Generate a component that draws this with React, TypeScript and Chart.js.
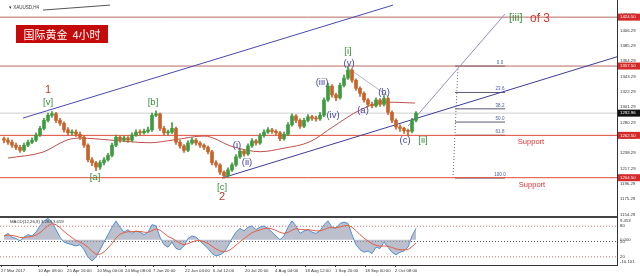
import React, { useEffect, useRef } from "react";
import { Chart, registerables } from "chart.js";
Chart.register(...registerables);

// ---------------- data ----------------
const opens = [1258,1256,1253,1249,1246,1242,1249,1253,1256,1263,
 1272,1283,1290,1292,1283,1279,1270,1266,1267,1264,
 1260,1249,1229,1225,1219,1225,1229,1235,1249,1260,
 1256,1259,1256,1263,1267,1266,1268,1270,1290,1292,
 1272,1266,1267,1272,1253,1248,1242,1252,1256,1252,
 1249,1246,1240,1225,1222,1212,1207,1215,1222,1233,
 1241,1237,1248,1255,1252,1262,1267,1270,1268,1266,
 1258,1264,1277,1289,1283,1275,1283,1288,1286,1285,
 1290,1311,1330,1318,1314,1331,1341,1352,1338,1327,
 1320,1311,1305,1303,1311,1305,1313,1294,1283,1274,
 1272,1269,1268,1283];
const highs = [1260,1259,1256,1252,1249,1252,1256,1259,1266,1275,
 1286,1293,1295,1294,1286,1281,1273,1270,1270,1267,
 1262,1251,1232,1227,1228,1232,1238,1252,1263,1262,
 1262,1261,1266,1270,1270,1271,1274,1293,1296,1293,
 1275,1270,1280,1274,1256,1250,1255,1259,1258,1254,
 1251,1248,1242,1228,1224,1214,1218,1225,1236,1244,
 1243,1251,1258,1257,1265,1270,1273,1272,1270,1268,
 1267,1280,1292,1291,1285,1286,1291,1290,1289,1294,
 1314,1334,1332,1320,1334,1345,1357,1354,1340,1329,
 1322,1313,1308,1314,1313,1317,1315,1296,1285,1277,
 1274,1271,1286,1295];
const lows = [1252,1250,1246,1243,1239,1240,1247,1251,1254,1261,
 1270,1281,1287,1280,1276,1267,1263,1263,1261,1257,
 1246,1226,1221,1214,1216,1222,1227,1233,1247,1253,
 1254,1253,1254,1261,1263,1264,1266,1268,1288,1269,
 1263,1263,1265,1250,1245,1239,1240,1250,1249,1246,
 1243,1237,1222,1219,1209,1204,1205,1213,1220,1231,
 1234,1235,1246,1249,1250,1260,1265,1265,1263,1255,
 1256,1262,1275,1280,1272,1273,1281,1283,1282,1283,
 1288,1309,1315,1310,1312,1329,1339,1335,1324,1316,
 1308,1302,1300,1301,1302,1303,1291,1280,1271,1268,
 1265,1262,1266,1281];
const closes = [1256,1253,1249,1246,1242,1249,1253,1256,1263,1272,
 1283,1290,1292,1283,1279,1270,1266,1267,1264,1260,
 1249,1229,1225,1219,1225,1229,1235,1249,1260,1256,
 1259,1256,1263,1267,1266,1268,1270,1290,1292,1272,
 1266,1267,1272,1253,1248,1242,1252,1256,1252,1249,
 1246,1240,1225,1222,1212,1207,1215,1222,1233,1241,
 1237,1248,1255,1252,1262,1267,1270,1268,1266,1258,
 1264,1277,1289,1283,1275,1283,1288,1286,1285,1290,
 1311,1330,1318,1314,1331,1341,1352,1338,1327,1320,
 1311,1305,1303,1311,1305,1313,1294,1283,1274,1272,
 1269,1268,1283,1292.96];

const maIndex = [1, 9.75, 15.75, 19, 26.5, 36.5, 42.25, 50, 57.25, 64, 69.75, 76.5, 82.25, 89, 95.25, 102.75];
const maValues = [1231.4, 1239.6, 1256.1, 1258.8, 1256.1, 1252.4, 1256.1, 1261.6, 1246.9, 1240.1, 1244.7, 1253.8, 1274.3, 1297.2, 1308.1, 1306.8];

const macdMain = [1.5,2.5,1.0,0.5,-0.5,1.0,2.0,1.5,3.0,5.5,
 7.5,8.5,7.0,4.0,1.0,-1.0,-1.5,-2.0,-2.5,-2.0,
 -4.0,-7.0,-8.5,-7.0,-4.0,-1.0,2.0,5.0,7.5,5.0,
 3.0,4.0,2.5,3.5,3.0,2.0,3.0,6.0,5.5,1.0,
 -2.0,-3.0,-1.0,-3.5,-4.0,-2.5,0.5,1.5,1.0,-0.5,
 -2.0,-3.5,-5.5,-6.5,-6.0,-5.0,-2.5,0.5,3.0,4.5,
 3.5,5.0,5.5,4.0,5.0,5.5,4.5,3.0,1.5,0.0,
 1.5,5.0,7.5,5.5,2.5,3.5,4.0,3.0,2.5,3.5,
 6.0,7.5,5.0,4.5,6.5,7.0,6.5,2.0,-2.0,-4.0,
 -5.0,-4.5,-5.5,-3.0,-3.5,-1.0,-3.0,-5.0,-6.0,-5.0,
 -4.5,-3.0,1.5,4.5];
const macdSignal = [1.5,1.8,1.7,1.4,0.9,0.8,1.1,1.3,1.8,2.8,
 4.2,5.6,6.4,6.0,4.8,3.3,2.0,0.8,-0.3,-1.0,
 -1.8,-3.0,-4.6,-5.8,-5.8,-4.9,-3.3,-1.5,0.7,2.2,
 2.8,3.2,3.2,3.3,3.3,3.0,2.9,3.6,4.3,3.8,
 2.6,1.3,0.6,-0.4,-1.4,-2.0,-1.6,-0.9,-0.4,-0.4,
 -0.8,-1.5,-2.6,-3.7,-4.5,-4.8,-4.5,-3.5,-2.2,-0.8,
 0.4,1.6,2.8,3.4,3.9,4.4,4.6,4.3,3.7,2.9,
 2.5,2.9,3.8,4.4,4.1,4.0,4.0,3.8,3.5,3.5,
 4.0,4.7,4.8,4.8,5.1,5.5,5.7,5.0,3.6,2.0,
 0.6,-0.5,-1.6,-2.2,-2.6,-2.5,-2.6,-3.1,-3.7,-4.0,
 -4.1,-3.9,-2.8,-1.3];

const priceTicks = [1154.29, 1175.29, 1196.29, 1217.29, 1238.29, 1259.29, 1280.29, 1301.29, 1322.29, 1343.29, 1364.29, 1385.29, 1406.29, 1427.29];
const dateTickIndex = [-0.75, 8.5, 15.75, 23.25, 30.25, 37.25, 45.25, 52.25, 60.25, 67.75, 75.25, 82.75, 90.25, 97.75];
const dateTickLabels = ["27 Mar 2017", "10 Apr 08:00", "25 Apr 16:00", "10 May 00:00", "24 May 08:00", "7 Jun 20:00", "22 Jun 04:00", "6 Jul 12:00", "20 Jul 20:00", "4 Aug 04:00", "18 Aug 12:00", "1 Sep 20:00", "18 Sep 00:00", "2 Oct 08:00"];

const keyLevels = [1424.5, 1357.5, 1262.5, 1204.5];
const keyLevelLabels = ["1424.50", "1357.50", "1262.50", "1204.50"];
const lastPrice = 1292.96;
const fibHigh = 1357.5;
const fibLow = 1204;
const fibLevels = [0, 23.6, 38.2, 50, 61.8, 100];
const fibLabels = ["0.0", "23.6", "38.2", "50.0", "61.8", "100.0"];
const stochLevels = [80, 50, 20];
const macdAxisLabels = ["9.453", "0.000", "-10.101"];
const macdAxisValues = [9.453, 0, -10.101];

// ---------------- config / styling ----------------
const X_MIN = -1;
const X_MAX = 153.25;
const UP = "#3f9b3f";
const DOWN = "#c8642a";
const FONT = '"Liberation Sans", Arial, sans-serif';

const trendLines = [
  { from: [4.75, 1286.2], to: [97.25, 1441], color: "#4848b2", width: 1 },
  { from: [54.5, 1204], to: [153.25, 1370.2], color: "#3c3c9a", width: 1 },
  { from: [101, 1275.3], to: [125.25, 1428.7], color: "#9a8ac4", width: 1 },
  { from: [86, 1354.7], to: [96, 1316.4], color: "#b4b4bc", width: 1 },
  { from: [9.75, 1434.2], to: [26.5, 1441], color: "#555555", width: 1 },
];

const GREEN = "#3b8f3b";
const BLUE = "#4545a5";
const RED = "#c0392b";
const waveLabels = [
  { t: "1", i: 11, p: 1324.6, c: RED, s: 11 },
  { t: "[v]", i: 11, p: 1308.1, c: GREEN, s: 9.5 },
  { t: "[a]", i: 22.75, p: 1205.4, c: GREEN, s: 9.5 },
  { t: "[b]", i: 37.25, p: 1308.1, c: GREEN, s: 9.5 },
  { t: "[c]", i: 54.5, p: 1191.7, c: GREEN, s: 9.5 },
  { t: "2", i: 54.5, p: 1178, c: RED, s: 11 },
  { t: "(i)", i: 58.25, p: 1249.2, c: BLUE, s: 9.5 },
  { t: "(ii)", i: 60.75, p: 1225.9, c: BLUE, s: 9.5 },
  { t: "(iii)", i: 79.5, p: 1335.5, c: BLUE, s: 9.5 },
  { t: "(iv)", i: 82.25, p: 1290.3, c: BLUE, s: 9.5 },
  { t: "[i]", i: 86, p: 1378, c: GREEN, s: 9.5 },
  { t: "(v)", i: 86.25, p: 1361.6, c: BLUE, s: 9.5 },
  { t: "(a)", i: 89.75, p: 1297.2, c: BLUE, s: 9.5 },
  { t: "(b)", i: 95, p: 1321.8, c: BLUE, s: 9.5 },
  { t: "(c)", i: 100.25, p: 1256.1, c: BLUE, s: 9.5 },
  { t: "[ii]", i: 104.75, p: 1256.1, c: GREEN, s: 9.5 },
];
const supportLabels = [
  { i: 131.75, p: 1253.3 },
  { i: 132, p: 1194.4 },
];

function seg(from: number[], to: number[], color: string, width: number, dash: number[] = [], order = 5, axis = "y") {
  return {
    type: "line",
    data: [{ x: from[0], y: from[1] }, { x: to[0], y: to[1] }],
    borderColor: color,
    borderWidth: width,
    borderDash: dash,
    pointRadius: 0,
    fill: false,
    tension: 0,
    order,
    yAxisID: axis,
  };
}

const topTextPlugin = {
  id: "topText",
  afterDatasetsDraw(chart: any) {
    const { ctx, scales, chartArea } = chart;
    const x = scales.x, y = scales.y;
    ctx.save();
    // fib labels
    ctx.font = `4.5px ${FONT}`;
    ctx.fillStyle = "#4a55a8";
    ctx.textAlign = "center";
    ctx.textBaseline = "bottom";
    fibLevels.forEach((lv, k) => {
      const p = fibHigh - (lv / 100) * (fibHigh - fibLow);
      ctx.fillText(fibLabels[k], x.getPixelForValue(124), y.getPixelForValue(p) - 1);
    });
    // wave labels
    ctx.textBaseline = "middle";
    waveLabels.forEach((w) => {
      ctx.font = `${w.s}px ${FONT}`;
      ctx.fillStyle = w.c;
      ctx.fillText(w.t, x.getPixelForValue(w.i), y.getPixelForValue(w.p));
    });
    // support
    ctx.font = `7.5px ${FONT}`;
    ctx.fillStyle = "#d83232";
    supportLabels.forEach((s) => ctx.fillText("Support", x.getPixelForValue(s.i), y.getPixelForValue(s.p)));
    // [iii] of 3
    ctx.textAlign = "left";
    ctx.font = `11px ${FONT}`;
    ctx.fillStyle = GREEN;
    ctx.fillText("[iii]", x.getPixelForValue(126.25), y.getPixelForValue(1423));
    ctx.font = `12px ${FONT}`;
    ctx.fillStyle = "#d04030";
    ctx.fillText("of 3", x.getPixelForValue(131.5), y.getPixelForValue(1423));
    // caption
    ctx.font = `4.5px ${FONT}`;
    ctx.fillStyle = "#333";
    ctx.fillText("\u25BE XAUUSD,H4", chartArea.left + 9, chartArea.top + 8);
    // title box
    ctx.fillStyle = "#c40a0a";
    ctx.fillRect(chartArea.left + 16, chartArea.top + 25, 92, 18);
    ctx.fillStyle = "#ffffff";
    ctx.textAlign = "center";
    ctx.font = `11px "Noto Sans CJK SC", sans-serif`;
    ctx.fillText("国际黄金  4小时", chartArea.left + 62, chartArea.top + 34.5);
    ctx.restore();
  },
  afterDraw(chart: any) {
    const { ctx, scales, chartArea } = chart;
    const y = scales.y;
    ctx.save();
    ctx.font = `4.3px ${FONT}`;
    ctx.textBaseline = "middle";
    ctx.textAlign = "left";
    const boxes = keyLevels.map((v, k) => ({ v, t: keyLevelLabels[k], bg: "#d42a2a" }));
    boxes.push({ v: lastPrice, t: lastPrice.toFixed(2), bg: "#111111" });
    boxes.forEach((b) => {
      const py = y.getPixelForValue(b.v);
      ctx.fillStyle = b.bg;
      ctx.fillRect(chartArea.right + 1, py - 3.5, 22, 7);
      ctx.fillStyle = "#fff";
      ctx.fillText(b.t, chartArea.right + 3, py);
    });
    ctx.restore();
  },
};

const botTextPlugin = {
  id: "botText",
  afterDraw(chart: any) {
    const { ctx, scales, chartArea } = chart;
    const y = scales.y, ys = scales.ys;
    ctx.save();
    ctx.strokeStyle = "#444";
    ctx.lineWidth = 2;
    ctx.beginPath();
    ctx.moveTo(0, chartArea.top + 1);
    ctx.lineTo(chartArea.right, chartArea.top + 1);
    ctx.stroke();
    ctx.font = `4.3px ${FONT}`;
    ctx.fillStyle = "#333";
    ctx.textAlign = "left";
    ctx.textBaseline = "middle";
    ctx.fillText("MACD(12,26,9) 3.284 3.659", chartArea.left + 10, chartArea.top + 6);
    const tx = chartArea.right + 3;
    ctx.fillText(macdAxisLabels[0], tx, chartArea.top + 5);
    ctx.fillText(macdAxisLabels[1], tx, y.getPixelForValue(macdAxisValues[1]));
    ctx.fillText(macdAxisLabels[2], tx, chartArea.bottom - 3);
    stochLevels.forEach((v) => ctx.fillText(String(v), tx, ys.getPixelForValue(v)));
    ctx.restore();
  },
};

export default function App() {
  const topRef = useRef<HTMLCanvasElement>(null);
  const botRef = useRef<HTMLCanvasElement>(null);

  useEffect(() => {
    document.body.style.margin = "0";
    const idx = closes.map((_, i) => i);
    const colors = idx.map((i) => (closes[i] >= opens[i] ? UP : DOWN));

    const datasets: any[] = [
      {
        type: "bar",
        data: idx.map((i) => ({ x: i, y: [opens[i], closes[i]] })),
        backgroundColor: colors,
        borderWidth: 0,
        barThickness: 3,
        minBarLength: 1,
        grouped: false,
        order: 2,
      },
      {
        type: "bar",
        data: idx.map((i) => ({ x: i, y: [lows[i], highs[i]] })),
        backgroundColor: colors,
        borderWidth: 0,
        barThickness: 1,
        grouped: false,
        order: 3,
      },
      {
        type: "line",
        data: maIndex.map((v, k) => ({ x: v, y: maValues[k] })),
        borderColor: "#c0504a",
        borderWidth: 1,
        pointRadius: 0,
        fill: false,
        cubicInterpolationMode: "monotone",
        order: 4,
      },
    ];
    trendLines.forEach((t) => datasets.push(seg(t.from, t.to, t.color, t.width, [], 5)));
    // horizontal key levels
    keyLevels.forEach((v, k) =>
      datasets.push(seg([X_MIN, v], [X_MAX, v], k < 2 ? "#b86a60" : "#e04a3a", 1, [], 6))
    );
    datasets.push(seg([X_MIN, lastPrice], [X_MAX, lastPrice], "#cfcfcf", 1, [], 8));
    // fibonacci
    datasets.push(seg([112.25, fibLow], [113.5, fibHigh], "#666", 1, [1, 2], 7));
    fibLevels.forEach((lv) => {
      const p = fibHigh - (lv / 100) * (fibHigh - fibLow);
      datasets.push(seg([112.75, p], [125.25, p], "#5a5a78", 1, [], 7));
    });

    const top = new Chart(topRef.current!, {
      type: "bar",
      data: { datasets },
      plugins: [topTextPlugin],
      options: {
        responsive: false,
        animation: false,
        layout: { padding: 0 },
        plugins: { legend: { display: false }, tooltip: { enabled: false } },
        scales: {
          x: { type: "linear", min: X_MIN, max: X_MAX, offset: false, display: false },
          y: {
            position: "right",
            min: 1152,
            max: 1448,
            grid: { display: false, drawTicks: false },
            border: { display: true, color: "#333", width: 1 },
            afterBuildTicks: (s: any) => {
              s.ticks = priceTicks.map((v) => ({ value: v }));
            },
            afterFit: (s: any) => {
              s.width = 23;
              s.paddingTop = 0;
              s.paddingBottom = 0;
            },
            ticks: {
              padding: 3,
              font: { size: 4.3, family: FONT },
              color: "#333",
              callback: (v: any) => Number(v).toFixed(2),
            },
          },
        },
      } as any,
    } as any);

    const botSets: any[] = [
      {
        type: "line",
        data: idx.map((i) => ({ x: i, y: macdMain[i] })),
        borderColor: "#4f8fd6",
        borderWidth: 1,
        backgroundColor: "rgba(150,158,176,0.65)",
        fill: "origin",
        pointRadius: 0,
        tension: 0,
        order: 2,
      },
      {
        type: "line",
        data: idx.map((i) => ({ x: i, y: macdSignal[i] })),
        borderColor: "#e0604a",
        borderWidth: 1,
        fill: false,
        pointRadius: 0,
        tension: 0,
        order: 1,
      },
    ];
    stochLevels.forEach((v) =>
      botSets.push(seg([X_MIN, v], [X_MAX, v], v === 50 ? "#555" : "#d06a6a", 1, [1, 2], 3, "ys"))
    );

    const bot = new Chart(botRef.current!, {
      type: "line",
      data: { datasets: botSets },
      plugins: [botTextPlugin],
      options: {
        responsive: false,
        animation: false,
        layout: { padding: 0 },
        plugins: { legend: { display: false }, tooltip: { enabled: false } },
        scales: {
          x: {
            type: "linear",
            min: X_MIN,
            max: X_MAX,
            offset: false,
            position: "bottom",
            grid: { display: true, drawOnChartArea: false, drawTicks: true, tickLength: 2, color: "#333" },
            border: { display: true, color: "#333", width: 1 },
            afterBuildTicks: (s: any) => {
              s.ticks = dateTickIndex.map((v) => ({ value: v }));
            },
            afterFit: (s: any) => {
              s.height = 11;
              s.paddingLeft = 0;
              s.paddingRight = 0;
            },
            ticks: {
              autoSkip: false,
              maxRotation: 0,
              minRotation: 0,
              align: "start",
              padding: 1,
              font: { size: 4.3, family: FONT },
              color: "#333",
              callback: (_v: any, i: number) => dateTickLabels[i],
            },
          },
          y: {
            position: "right",
            min: -10.101,
            max: 9.453,
            grid: { display: false, drawTicks: false },
            border: { display: true, color: "#333", width: 1 },
            ticks: { display: false },
            afterFit: (s: any) => {
              s.width = 23;
              s.paddingTop = 0;
              s.paddingBottom = 0;
            },
          },
          ys: { display: false, min: 4, max: 100 },
        },
      } as any,
    } as any);

    return () => {
      top.destroy();
      bot.destroy();
    };
  }, []);

  return (
    <div style={{ position: "fixed", left: 0, top: 0, width: 640, height: 276, background: "#fff" }}>
      <canvas ref={topRef} width={640} height={216} style={{ position: "absolute", left: 0, top: 0, width: 640, height: 216 }} />
      <canvas ref={botRef} width={640} height={60} style={{ position: "absolute", left: 0, top: 216, width: 640, height: 60 }} />
    </div>
  );
}
